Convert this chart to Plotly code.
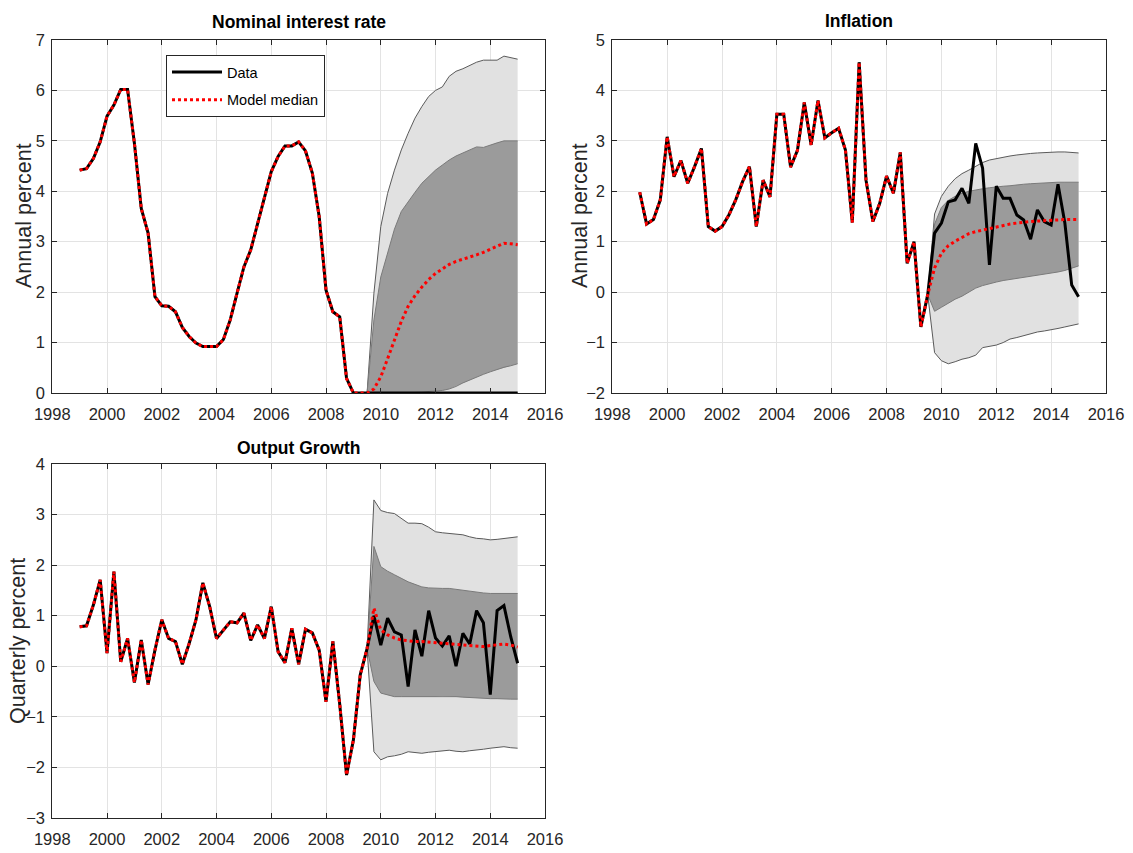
import plotly.graph_objects as go
from plotly.subplots import make_subplots

# Quarterly time index: history 1999Q1..2009Q3, forecast 2009Q4..2015Q1
hist_t = [1999 + 0.25 * k for k in range(43)]
fcst_t = [2009.75 + 0.25 * k for k in range(22)]

# Nominal interest rate (annual percent)
rate_hist = [4.42, 4.45, 4.65, 4.98, 5.49, 5.71, 6.02, 6.02, 4.95, 3.66, 3.17, 1.91,
             1.73, 1.72, 1.61, 1.30, 1.12, 0.99, 0.92, 0.92, 0.92, 1.06, 1.45, 1.98,
             2.50, 2.84, 3.36, 3.89, 4.39, 4.69, 4.90, 4.90, 4.98, 4.80, 4.36, 3.50,
             2.04, 1.61, 1.51, 0.29, 0.00, 0.00, 0.00]
rate_obs = [0.00, 0.00, 0.00, 0.00, 0.00, 0.00, 0.00, 0.00, 0.00, 0.00, 0.00,
            0.00, 0.00, 0.00, 0.00, 0.00, 0.00, 0.00, 0.00, 0.00, 0.00, 0.00]
rate_med = [0.08, 0.32, 0.68, 1.05, 1.42, 1.72, 1.93, 2.10, 2.25, 2.37, 2.46,
            2.55, 2.61, 2.65, 2.69, 2.74, 2.79, 2.85, 2.92, 2.97, 2.96, 2.94]
rate_hi90 = [1.98, 3.30, 3.96, 4.42, 4.82, 5.15, 5.45, 5.68, 5.88, 6.00, 6.07,
             6.28, 6.38, 6.43, 6.49, 6.56, 6.60, 6.60, 6.60, 6.68, 6.65, 6.62]
rate_hi68 = [1.45, 2.30, 2.80, 3.25, 3.60, 3.80, 3.98, 4.16, 4.30, 4.42, 4.52,
             4.62, 4.70, 4.76, 4.82, 4.88, 4.87, 4.92, 4.96, 5.00, 5.00, 5.00]
rate_lo68 = [0.00, 0.00, 0.00, 0.00, 0.00, 0.00, 0.01, 0.02, 0.03, 0.04, 0.05,
             0.08, 0.13, 0.20, 0.26, 0.31, 0.37, 0.42, 0.47, 0.51, 0.54, 0.58]
rate_lo90 = [0.00, 0.00, 0.00, 0.00, 0.00, 0.00, 0.00, 0.00, 0.00, 0.00, 0.00,
             0.00, 0.00, 0.00, 0.00, 0.00, 0.00, 0.00, 0.00, 0.00, 0.00, 0.00]

# Inflation (annual percent)
infl_hist = [1.98, 1.35, 1.44, 1.83, 3.08, 2.29, 2.61, 2.16, 2.49, 2.85, 1.30, 1.21,
             1.30, 1.53, 1.83, 2.19, 2.49, 1.30, 2.22, 1.89, 3.53, 3.53, 2.48, 2.81,
             3.76, 2.92, 3.80, 3.06, 3.16, 3.25, 2.82, 1.38, 4.56, 2.22, 1.40, 1.76,
             2.30, 1.96, 2.77, 0.57, 1.00, -0.69, -0.05]
infl_obs = [1.17, 1.37, 1.79, 1.83, 2.06, 1.76, 2.95, 2.46, 0.54, 2.10, 1.86,
            1.86, 1.53, 1.43, 1.05, 1.63, 1.40, 1.33, 2.14, 1.37, 0.14, -0.09]
infl_med = [0.48, 0.77, 0.92, 1.01, 1.09, 1.16, 1.20, 1.23, 1.27, 1.29, 1.32,
            1.35, 1.37, 1.39, 1.40, 1.41, 1.42, 1.43, 1.43, 1.44, 1.44, 1.44]
infl_hi90 = [1.55, 1.90, 2.10, 2.25, 2.35, 2.42, 2.50, 2.57, 2.62, 2.65, 2.68,
             2.70, 2.72, 2.74, 2.75, 2.76, 2.77, 2.78, 2.78, 2.78, 2.77, 2.76]
infl_hi68 = [1.35, 1.68, 1.82, 1.90, 1.96, 2.00, 2.03, 2.05, 2.07, 2.09, 2.10,
             2.11, 2.13, 2.14, 2.15, 2.16, 2.17, 2.17, 2.18, 2.18, 2.18, 2.18]
infl_lo68 = [-0.38, -0.30, -0.22, -0.14, -0.08, 0.00, 0.08, 0.13, 0.17, 0.20, 0.23,
             0.25, 0.27, 0.29, 0.31, 0.34, 0.36, 0.38, 0.40, 0.43, 0.47, 0.52]
infl_lo90 = [-1.20, -1.36, -1.42, -1.38, -1.33, -1.30, -1.25, -1.10, -1.07, -1.05, -1.00,
             -0.93, -0.90, -0.86, -0.83, -0.79, -0.77, -0.75, -0.72, -0.69, -0.66, -0.63]

# Output growth (quarterly percent)
gdp_hist = [0.78, 0.80, 1.21, 1.71, 0.26, 1.87, 0.09, 0.55, -0.32, 0.52, -0.36, 0.32,
            0.92, 0.55, 0.49, 0.04, 0.45, 0.92, 1.65, 1.18, 0.55, 0.72, 0.88, 0.86,
            1.05, 0.51, 0.82, 0.55, 1.18, 0.29, 0.07, 0.75, 0.04, 0.73, 0.66, 0.32,
            -0.70, 0.49, -0.75, -2.15, -1.46, -0.17, 0.35]
gdp_obs = [1.00, 0.42, 0.95, 0.68, 0.62, -0.40, 0.72, 0.20, 1.10, 0.56, 0.40,
           0.60, 0.00, 0.65, 0.44, 1.10, 0.86, -0.56, 1.10, 1.20, 0.58, 0.06]
gdp_med = [1.15, 0.72, 0.62, 0.56, 0.52, 0.50, 0.49, 0.49, 0.48, 0.46, 0.45,
           0.44, 0.44, 0.43, 0.42, 0.40, 0.39, 0.41, 0.43, 0.44, 0.42, 0.38]
gdp_hi90 = [3.29, 3.08, 3.04, 3.02, 2.92, 2.83, 2.83, 2.82, 2.75, 2.66, 2.64,
            2.63, 2.62, 2.60, 2.56, 2.53, 2.52, 2.50, 2.51, 2.53, 2.55, 2.56]
gdp_hi68 = [2.37, 1.97, 1.88, 1.81, 1.74, 1.67, 1.62, 1.57, 1.55, 1.54, 1.54,
            1.54, 1.52, 1.51, 1.49, 1.47, 1.45, 1.44, 1.44, 1.44, 1.44, 1.44]
gdp_lo68 = [-0.30, -0.53, -0.57, -0.60, -0.60, -0.60, -0.60, -0.60, -0.60, -0.60, -0.59,
            -0.59, -0.60, -0.61, -0.62, -0.63, -0.63, -0.64, -0.64, -0.65, -0.65, -0.65]
gdp_lo90 = [-1.69, -1.85, -1.79, -1.77, -1.74, -1.69, -1.71, -1.72, -1.70, -1.69, -1.68,
            -1.66, -1.68, -1.69, -1.67, -1.66, -1.64, -1.62, -1.60, -1.59, -1.61, -1.62]

SANS = "Liberation Sans, Arial, sans-serif"
AX = "#262626"


def add_band(fig, row, col, upper, lower, fill, edge, origin):
    # fan band: starts at the last observed point and opens up over the forecast
    t0, y0 = origin
    xs = [t0] + fcst_t + fcst_t[::-1]
    ys = [y0] + upper + lower[::-1]
    fig.add_trace(go.Scatter(x=xs, y=ys, fill="toself", fillcolor=fill, mode="lines",
                             line=dict(width=0), hoverinfo="skip", showlegend=False),
                  row=row, col=col)
    for edge_y in (upper, lower):
        fig.add_trace(go.Scatter(x=[t0] + fcst_t, y=[y0] + edge_y, mode="lines",
                                 line=dict(color=edge, width=1), hoverinfo="skip",
                                 showlegend=False),
                      row=row, col=col)


def add_panel(fig, row, col, hist, obs, med, hi90, hi68, lo68, lo90, legend=False):
    origin = (hist_t[-1], hist[-1])
    add_band(fig, row, col, hi90, lo90, "#e1e1e1", "#5a5a5a", origin)
    add_band(fig, row, col, hi68, lo68, "#9b9b9b", "#7a7a7a", origin)
    fig.add_trace(go.Scatter(x=hist_t + fcst_t, y=hist + obs, mode="lines", name="Data",
                             line=dict(color="black", width=3), cliponaxis=False,
                             legendgroup="a", showlegend=legend),
                  row=row, col=col)
    fig.add_trace(go.Scatter(x=hist_t + fcst_t, y=hist + med, mode="lines",
                             name="Model median",
                             line=dict(color="#ff0000", width=3, dash="dot"),
                             legendgroup="b", showlegend=legend),
                  row=row, col=col)


fig = make_subplots(rows=2, cols=2, specs=[[{}, {}], [{}, None]])
add_panel(fig, 1, 1, rate_hist, rate_obs, rate_med, rate_hi90, rate_hi68, rate_lo68, rate_lo90, legend=True)
add_panel(fig, 1, 2, infl_hist, infl_obs, infl_med, infl_hi90, infl_hi68, infl_lo68, infl_lo90)
add_panel(fig, 2, 1, gdp_hist, gdp_obs, gdp_med, gdp_hi90, gdp_hi68, gdp_lo68, gdp_lo90)

W, H = 1133, 853
axis_common = dict(showline=True, linecolor=AX, linewidth=1, mirror="ticks",
                   ticks="inside", ticklen=5, tickcolor=AX, showgrid=True,
                   gridcolor="#e3e3e3", gridwidth=1, zeroline=False, automargin=False,
                   tickfont=dict(family=SANS, size=16.5, color=AX))
fig.update_xaxes(range=[1998, 2016], tick0=1998, dtick=2, ticklabelstandoff=6, **axis_common)
fig.update_yaxes(dtick=1, ticklabelstandoff=3, **axis_common)

left = [52.3 / W, 545 / W]
right = [612.3 / W, 1106 / W]
top = [1 - 393 / H, 1 - 40 / H]
bottom = [1 - 818 / H, 1 - 464 / H]
fig.update_layout(
    xaxis=dict(domain=left), yaxis=dict(domain=top, range=[0, 7]),
    xaxis2=dict(domain=right), yaxis2=dict(domain=top, range=[-2, 5]),
    xaxis3=dict(domain=left), yaxis3=dict(domain=bottom, range=[-3, 4]),
)

titles = [("Nominal interest rate", 298.5, 22), ("Inflation", 859, 21), ("Output Growth", 298.5, 448)]
for text, x, y in titles:
    fig.add_annotation(text=f"<b>{text}</b>", x=x / W, y=1 - y / H, xref="paper", yref="paper",
                       showarrow=False, xanchor="center", yanchor="middle",
                       font=dict(family=SANS, size=17.5, color="black"))

ylabels = [("Annual percent", 24, 216), ("Annual percent", 580, 216), ("Quarterly percent", 18, 641)]
for text, x, y in ylabels:
    fig.add_annotation(text=text, x=x / W, y=1 - y / H, xref="paper", yref="paper",
                       showarrow=False, textangle=-90, xanchor="center", yanchor="middle",
                       font=dict(family=SANS, size=21.5, color=AX))

fig.update_layout(
    width=W, height=H,
    margin=dict(l=0, r=0, t=0, b=0),
    paper_bgcolor="white", plot_bgcolor="white",
    showlegend=True,
    legend=dict(x=166 / W, y=1 - 55 / H, xanchor="left", yanchor="top",
                bgcolor="white", bordercolor=AX, borderwidth=1,
                font=dict(family=SANS, size=14.5, color="black"),
                itemwidth=50, tracegroupgap=6),
)

# the page's default body margin would shift the figure by 8px
fig.write_html("out.html", config={"displayModeBar": False},
               post_script="document.body.style.margin = '0px';")
